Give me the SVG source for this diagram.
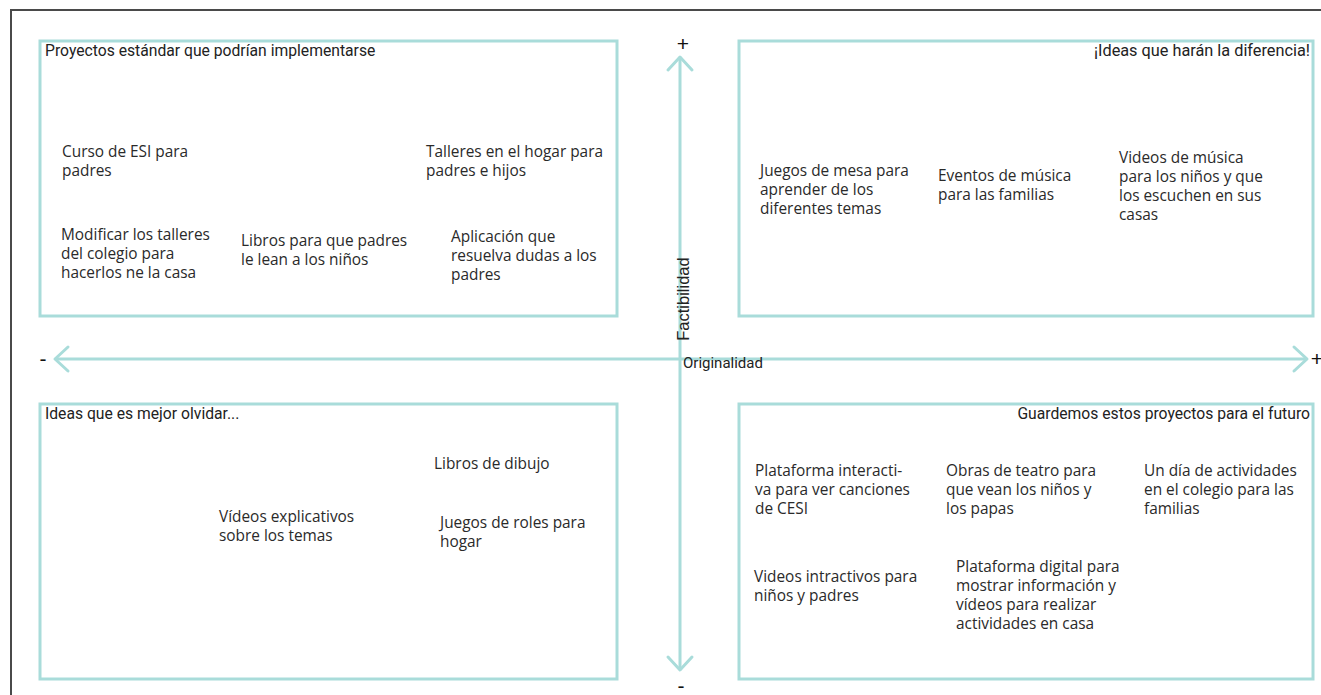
<svg xmlns="http://www.w3.org/2000/svg" width="1321" height="695" viewBox="0 0 1321 695">
<style>
.box{fill:#ffffff;stroke:#a9dcda;stroke-width:3}
.axis{stroke:#a9dcda;stroke-width:3;fill:none}
.head{stroke:#a9dcda;stroke-width:3;fill:none;stroke-linecap:round;stroke-linejoin:round}
.t{font-family:"Open Sans","Noto Sans",sans-serif;font-size:15.4px;fill:#2a2a2a}
.h{font-family:Roboto,"Liberation Sans",sans-serif;font-size:15.7px;fill:#222}
.s{font-family:"Liberation Sans",Arial,sans-serif;font-size:21px;fill:#111}
</style>
<rect width="1321" height="695" fill="#ffffff"/>
<path d="M11 695 V10 H1321" fill="none" stroke="#4a4a4a" stroke-width="2"/>
<g id="q-tl">
<rect class="box" x="40" y="41" width="577" height="275"/>
<text class="h" x="45" y="56">Proyectos estándar que podrían implementarse</text>
<text class="t" x="62" y="157">Curso de ESI para<tspan x="62" dy="19">padres</tspan></text>
<text class="t" x="426" y="157">Talleres en el hogar para<tspan x="426" dy="19">padres e hijos</tspan></text>
<text class="t" x="61" y="240">Modificar los talleres<tspan x="61" dy="19">del colegio para</tspan><tspan x="61" dy="19">hacerlos ne la casa</tspan></text>
<text class="t" x="241" y="246">Libros para que padres<tspan x="241" dy="19">le lean a los niños</tspan></text>
<text class="t" x="451" y="242">Aplicación que<tspan x="451" dy="19">resuelva dudas a los</tspan><tspan x="451" dy="19">padres</tspan></text>
</g>
<g id="q-tr">
<rect class="box" x="739" y="41" width="574" height="275"/>
<text class="h" x="1310" y="56" text-anchor="end" style="font-size:16.3px">¡Ideas que harán la diferencia!</text>
<text class="t" x="760" y="176">Juegos de mesa para<tspan x="760" dy="19">aprender de los</tspan><tspan x="760" dy="19">diferentes temas</tspan></text>
<text class="t" x="938" y="181">Eventos de música<tspan x="938" dy="19">para las familias</tspan></text>
<text class="t" x="1119" y="163">Videos de música<tspan x="1119" dy="19">para los niños y que</tspan><tspan x="1119" dy="19">los escuchen en sus</tspan><tspan x="1119" dy="19">casas</tspan></text>
</g>
<g id="q-bl">
<rect class="box" x="40" y="404" width="577" height="275"/>
<text class="h" x="45" y="419">Ideas que es mejor olvidar...</text>
<text class="t" x="434" y="469">Libros de dibujo</text>
<text class="t" x="219" y="522">Vídeos explicativos<tspan x="219" dy="19">sobre los temas</tspan></text>
<text class="t" x="440" y="528">Juegos de roles para<tspan x="440" dy="19">hogar</tspan></text>
</g>
<g id="q-br">
<rect class="box" x="739" y="404" width="574" height="275"/>
<text class="h" x="1310" y="419" text-anchor="end">Guardemos estos proyectos para el futuro</text>
<text class="t" x="755" y="476">Plataforma interacti-<tspan x="755" dy="19">va para ver canciones</tspan><tspan x="755" dy="19">de CESI</tspan></text>
<text class="t" x="946" y="476">Obras de teatro para<tspan x="946" dy="19">que vean los niños y</tspan><tspan x="946" dy="19">los papas</tspan></text>
<text class="t" x="1144" y="476">Un día de actividades<tspan x="1144" dy="19">en el colegio para las</tspan><tspan x="1144" dy="19">familias</tspan></text>
<text class="t" x="754" y="582">Videos intractivos para<tspan x="754" dy="19">niños y padres</tspan></text>
<text class="t" x="956" y="572">Plataforma digital para<tspan x="956" dy="19">mostrar información y</tspan><tspan x="956" dy="19">vídeos para realizar</tspan><tspan x="956" dy="19">actividades en casa</tspan></text>
</g>
<g id="connectors">
<line class="axis" x1="680" y1="57" x2="680" y2="670"/>
<path class="head" d="M668 70 L680 57 L692 70"/>
<path class="head" d="M668 657 L680 670 L692 657"/>
<line class="axis" x1="55" y1="359" x2="1307" y2="359"/>
<path class="head" d="M68 347 L55 359 L68 371"/>
<path class="head" d="M1294 347 L1307 359 L1294 371"/>
</g>
<g id="labels">
<text class="s" x="683" y="51" text-anchor="middle">+</text>
<text class="s" x="681" y="693" text-anchor="middle">-</text>
<text class="s" x="43" y="366" text-anchor="middle">-</text>
<text class="s" x="1317" y="366" text-anchor="middle">+</text>
<text class="h" x="683" y="364" dominant-baseline="middle" style="font-size:15px">Originalidad</text>
<text class="h" transform="translate(685,299) rotate(-90)" text-anchor="middle" dominant-baseline="middle" style="font-family:'Liberation Sans',sans-serif;font-size:16.5px">Factibilidad</text>
</g>
</svg>
